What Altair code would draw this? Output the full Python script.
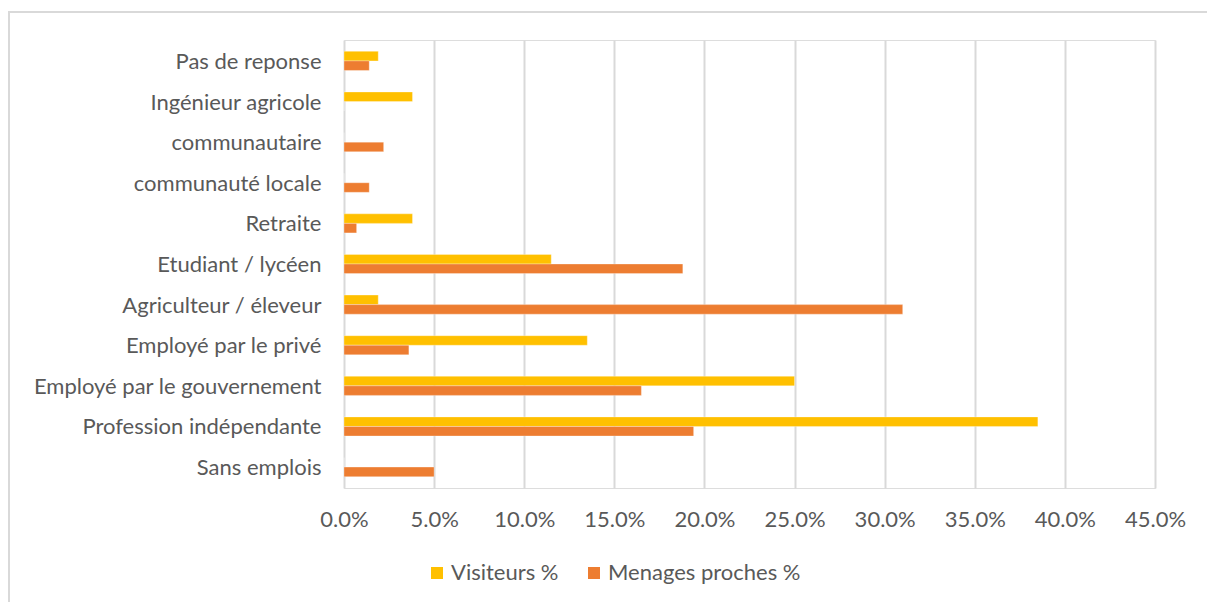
import altair as alt
import pandas as pd

categories = [
    "Pas de reponse",
    "Ingénieur agricole",
    "communautaire ",
    "communauté locale",
    "Retraite",
    "Etudiant / lycéen",
    "Agriculteur / éleveur",
    "Employé par le privé",
    "Employé par le gouvernement",
    "Profession indépendante",
    "Sans emplois",
]
visiteurs = [1.9, 3.8, 0.0, 0.0, 3.8, 11.5, 1.9, 13.5, 25.0, 38.5, 0.0]
menages = [1.4, 0.0, 2.2, 1.4, 0.7, 18.8, 31.0, 3.6, 16.5, 19.4, 5.0]
series = ["Visiteurs %", "Menages proches %"]
colors = ["#FFC000", "#ED7D31"]
x_ticks = [0, 0.05, 0.10, 0.15, 0.20, 0.25, 0.30, 0.35, 0.40, 0.45]

rows = []
for c, v, m in zip(categories, visiteurs, menages):
    rows.append({"cat": c, "series": series[0], "value": v / 100})
    rows.append({"cat": c, "series": series[1], "value": m / 100})
df = pd.DataFrame(rows)

FONT = "Lato"
TXT = "#595959"
FS = 22

bars = alt.Chart(df).mark_bar(stroke="white", strokeWidth=0.5, strokeOpacity=0.6).encode(
    y=alt.Y(
        "cat:N",
        sort=categories,
        scale=alt.Scale(paddingInner=0.53, paddingOuter=0.28),
        axis=alt.Axis(
            title=None, domain=False, ticks=False, labelFontSize=FS,
            labelColor=TXT, labelPadding=23, labelFont=FONT, grid=False,
            labelLimit=400, labelBaseline="middle", labelOffset=1,
        ),
    ),
    yOffset=alt.YOffset("series:N", sort=series, scale=alt.Scale(paddingInner=0, paddingOuter=0)),
    x=alt.X(
        "value:Q",
        scale=alt.Scale(domain=[0, 0.45], nice=False),
        axis=alt.Axis(
            title=None, format=".1%", values=x_ticks, grid=True,
            gridColor="#d9d9d9", gridWidth=2, domain=False, ticks=False,
            labelFontSize=FS, labelColor=TXT, labelFont=FONT, labelPadding=21,
            labelFlush=False, labelOverlap=False,
        ),
    ),
    color=alt.Color(
        "series:N",
        sort=series,
        scale=alt.Scale(domain=series, range=colors),
        legend=alt.Legend(
            title=None, orient="none", direction="horizontal",
            legendX=82, legendY=522, symbolType="square", symbolSize=144,
            symbolStrokeWidth=0, labelFontSize=FS, labelColor=TXT,
            labelFont=FONT, columnPadding=24, labelOffset=3, labelLimit=400,
        ),
    ),
)

frame = alt.Chart(pd.DataFrame({"d": [0]})).mark_rect(
    fill=None, stroke="#d9d9d9", strokeWidth=2
).encode(
    x=alt.value(-335), x2=alt.value(880), y=alt.value(-28), y2=alt.value(580)
)

chart = alt.layer(frame, bars).properties(
    width=811,
    height=448,
    autosize=alt.AutoSizeParams(type="none"),
    padding={"left": 344, "top": 40, "right": 52, "bottom": 114},
).configure_view(stroke=None).configure(background="white")

chart.save("out.html", embed_options={"renderer": "svg", "actions": False})
